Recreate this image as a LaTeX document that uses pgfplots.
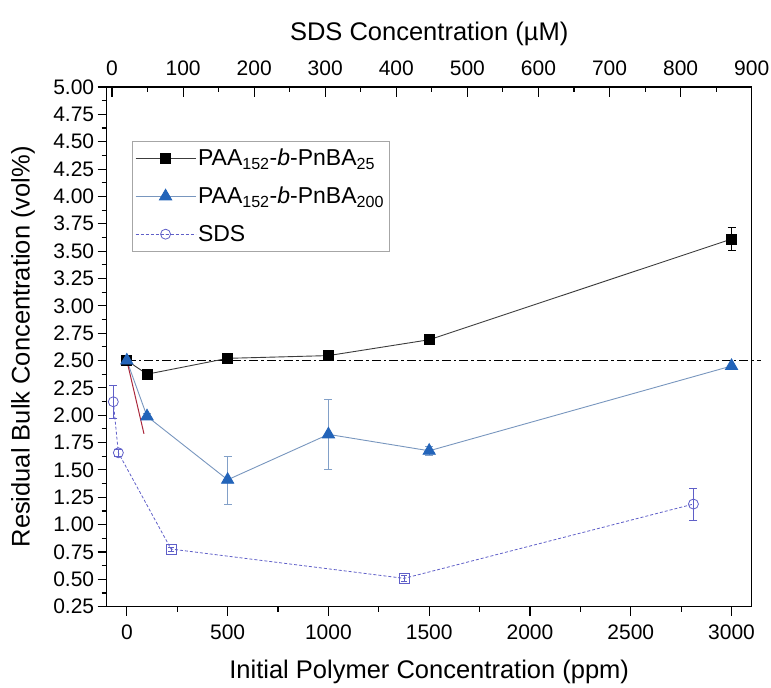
\documentclass[border=0pt]{standalone}
\usepackage{pgfplots}
\pgfplotsset{compat=1.18}
\usepackage{fontspec}
\setmainfont{Liberation Sans}
\definecolor{blkline}{RGB}{60,60,60}
\definecolor{triblue}{RGB}{35,100,185}
\definecolor{triline}{RGB}{120,150,190}
\definecolor{trierr}{RGB}{130,160,200}
\definecolor{sdscol}{RGB}{95,95,200}
\definecolor{fitred}{RGB}{170,40,60}
\begin{document}
\begin{tikzpicture}
\begin{axis}[name=main, scale only axis, width=645pt, height=519.7pt,
  xmin=-100, xmax=3100, ymin=0.25, ymax=5,
  clip=false,
  xtick={0,500,1000,1500,2000,2500,3000}, minor x tick num=1,
  ytick={0.25,0.5,0.75,1,1.25,1.5,1.75,2,2.25,2.5,2.75,3,3.25,3.5,3.75,4,4.25,4.5,4.75,5},
  minor y tick num=1,
  xtick pos=left, ytick pos=left, tick align=outside,
  major tick length=9pt, minor tick length=5pt,
  axis line style={line width=1.4pt},
  every tick/.style={black, line width=1.1pt},
  /pgf/number format/assume math mode=true,
  /pgf/number format/1000 sep={},
  yticklabel style={/pgf/number format/fixed, /pgf/number format/precision=2, /pgf/number format/fixed zerofill},
  xticklabel style={yshift=-6pt},
  tick label style={font=\fontsize{21}{25}\selectfont},
  label style={font=\fontsize{25.5}{30}\selectfont},
  xlabel={Initial Polymer Concentration (ppm)},
  ylabel={Residual Bulk Concentration (vol\%)},
  xlabel style={at={(axis description cs:0.5,-0.1385)}, anchor=base},
  ylabel style={at={(axis description cs:-0.1194,0.5)}, anchor=base},
  legend style={at={(0.0388,0.8967)}, anchor=north west, draw=gray!70, line width=0.8pt,
    font=\fontsize{23}{27}\selectfont, row sep=16pt, inner xsep=3pt, inner ysep=6pt,
    /tikz/every even column/.append style={column sep=5pt}},
  legend cell align=left,
  legend image code/.code={\draw[mark repeat=2,mark phase=2,#1] plot coordinates {(0pt,0pt)(30pt,0pt)(60pt,0pt)};},
]
% reference line
\addplot[forget plot, black, line width=1.8pt, dash pattern=on 9pt off 3pt on 2.5pt off 3pt] coordinates {(0,2.5) (3145,2.5)};
% PAA152-b-PnBA25
\addplot[blkline, line width=0.9pt, mark=square*, mark size=5pt,
  mark options={black, solid, fill=black},
  error bars/.cd, y dir=both, y explicit, error bar style={black, line width=0.8pt},
  error mark options={rotate=90, mark size=4pt, black}]
  coordinates {
  (0,2.50) +- (0,0)
  (100,2.375) +- (0,0)
  (500,2.52) +- (0,0)
  (1000,2.545) +- (0,0)
  (1500,2.69) +- (0,0)
  (3000,3.61) +- (0,0.105)
  };
\addlegendentry{PAA\textsubscript{152}-\textit{b}-PnBA\textsubscript{25}}
% PAA152-b-PnBA200
\addplot[triline, line width=0.9pt, mark=triangle*, mark size=7pt,
  mark options={triblue, solid, fill=triblue},
  error bars/.cd, y dir=both, y explicit, error bar style={trierr, line width=0.8pt},
  error mark options={rotate=90, mark size=4pt, trierr}]
  coordinates {
  (0,2.50) +- (0,0)
  (100,1.99) +- (0,0.03)
  (500,1.41) +- (0,0.22)
  (1000,1.825) +- (0,0.32)
  (1500,1.675) +- (0,0.04)
  (3000,2.45) +- (0,0)
  };
\addlegendentry{PAA\textsubscript{152}-\textit{b}-PnBA\textsubscript{200}}
% short red segment
\addplot[forget plot, fitred, line width=1pt] coordinates {(0,2.5) (85,1.83)};
\addlegendimage{sdscol, line width=0.8pt, dash pattern=on 3pt off 2pt, mark=o, mark size=5pt, mark options={solid, sdscol, fill=white}}
\addlegendentry{SDS}
\end{axis}
\begin{axis}[scale only axis, width=645pt, height=519.7pt,
  at={(main.south west)}, anchor=south west,
  xmin=-7.5, xmax=900, ymin=0.25, ymax=5,
  axis x line*=top, hide y axis,
  xtick={0,100,200,300,400,500,600,700,800,900}, minor x tick num=1,
  tick align=inside,
  major tick length=10pt, minor tick length=5pt,
  axis line style={line width=1.4pt},
  every tick/.style={black, line width=1.1pt},
  /pgf/number format/assume math mode=true,
  tick label style={font=\fontsize{21}{25}\selectfont},
  xticklabel style={yshift=8pt},
  label style={font=\fontsize{25.5}{30}\selectfont},
  xlabel={SDS Concentration (µM)},
  xlabel style={at={(axis description cs:0.5,1.0904)}, anchor=base},
]
\addplot[forget plot, sdscol, line width=0.8pt, dash pattern=on 3pt off 2pt] coordinates {
  (1.8,2.123) (8.9,1.657) (83,0.777) (411,0.509) (818,1.188)};
\addplot[forget plot, only marks, mark=o, mark size=5pt, mark options={sdscol, fill=white, line width=0.8pt},
  error bars/.cd, y dir=both, y explicit, error bar style={sdscol, line width=0.8pt},
  error mark options={rotate=90, mark size=4pt, sdscol}]
  coordinates {(1.8,2.123) +- (0,0.15) (8.9,1.657) +- (0,0.03) (818,1.188) +- (0,0.145)};
\addplot[forget plot, only marks, mark=square, mark size=5pt, mark options={sdscol, fill=white, line width=0.8pt},
  error bars/.cd, y dir=both, y explicit, error bar style={sdscol, line width=0.8pt},
  error mark options={rotate=90, mark size=3pt, sdscol}]
  coordinates {(83,0.777) +- (0,0.02) (411,0.509) +- (0,0.03)};
\end{axis}
\pgfresetboundingbox
\path[use as bounding box] (main.south west) ++(-106.7pt,-81.3pt) rectangle ++(771pt,688pt);
\end{tikzpicture}
\end{document}
